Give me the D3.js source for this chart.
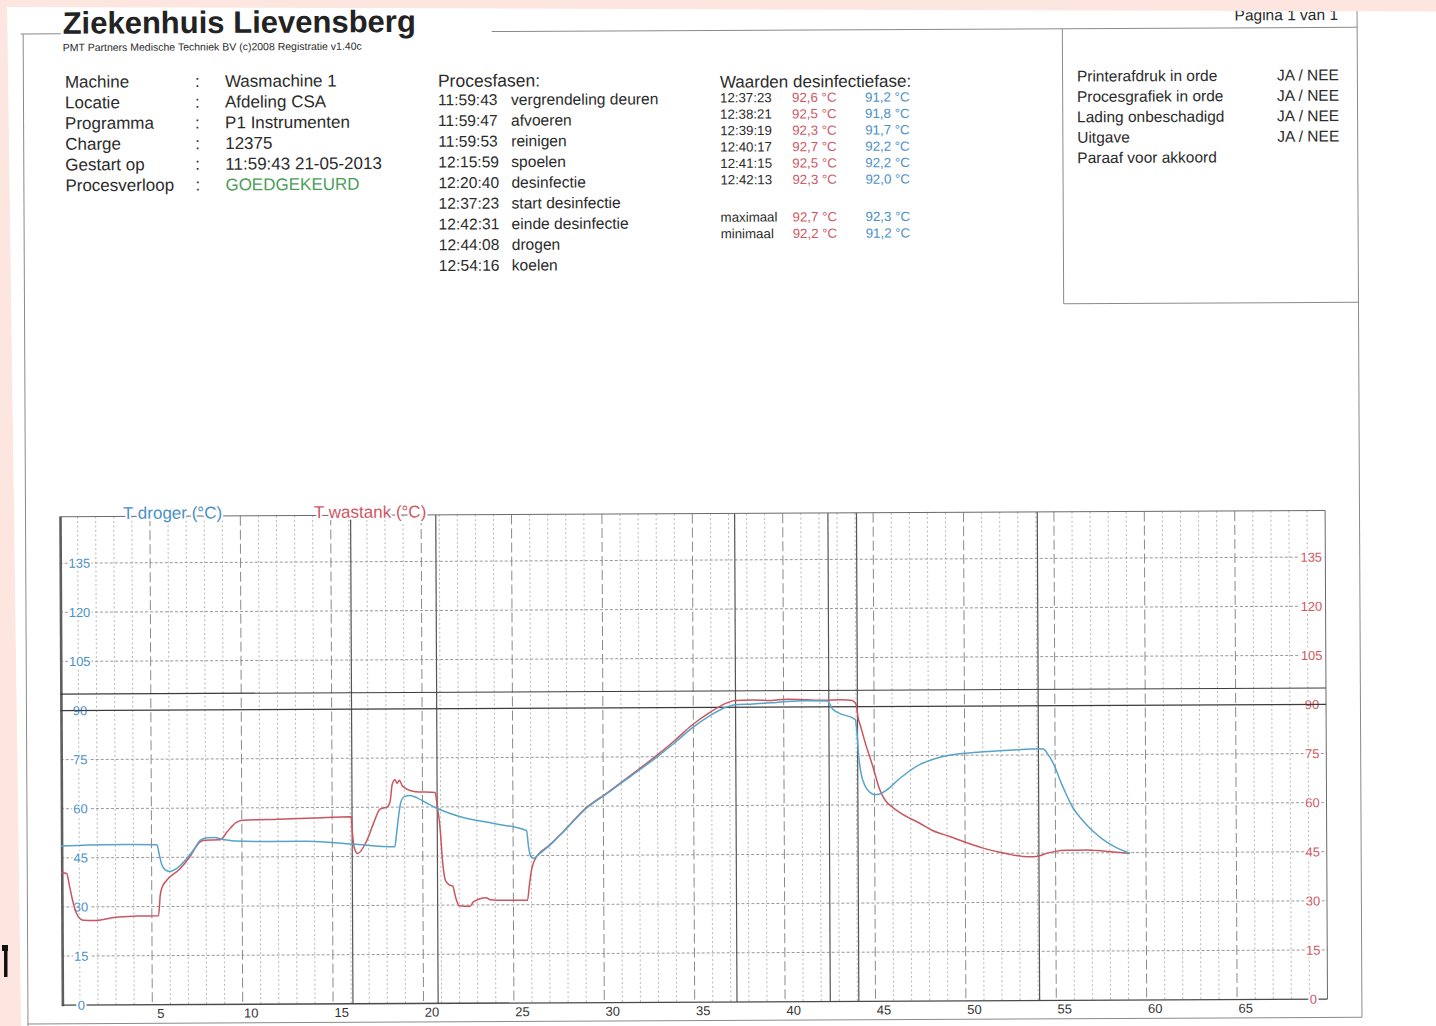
<!DOCTYPE html>
<html>
<head>
<meta charset="utf-8">
<script src="https://cdn.jsdelivr.net/npm/d3@7"></script>
<style>
body { margin: 0; background: #fff; }
svg { display: block; font-family: "Liberation Sans", Arial, sans-serif; }
</style>
</head>
<body>
<svg id="page" width="1436" height="1026"></svg>
<script>
// ---- header data ----
var infoLabels = ["Machine", "Locatie", "Programma", "Charge", "Gestart op", "Procesverloop"];
var infoValues = ["Wasmachine 1", "Afdeling CSA", "P1 Instrumenten", "12375", "11:59:43 21-05-2013", "GOEDGEKEURD"];
var phaseTimes = ["11:59:43", "11:59:47", "11:59:53", "12:15:59", "12:20:40", "12:37:23", "12:42:31", "12:44:08", "12:54:16"];
var phaseNames = ["vergrendeling deuren", "afvoeren", "reinigen", "spoelen", "desinfectie", "start desinfectie", "einde desinfectie", "drogen", "koelen"];
var desinfTimes = ["12:37:23", "12:38:21", "12:39:19", "12:40:17", "12:41:15", "12:42:13"];
var desinfWastank = ["92,6 °C", "92,5 °C", "92,3 °C", "92,7 °C", "92,5 °C", "92,3 °C"];
var desinfDroger = ["91,2 °C", "91,8 °C", "91,7 °C", "92,2 °C", "92,2 °C", "92,0 °C"];
var extremaLabels = ["maximaal", "minimaal"];
var extremaWastank = ["92,7 °C", "92,2 °C"];
var extremaDroger = ["92,3 °C", "91,2 °C"];
var checkItems = ["Printerafdruk in orde", "Procesgrafiek in orde", "Lading onbeschadigd", "Uitgave", "Paraaf voor akkoord"];
var checkAnswers = ["JA / NEE", "JA / NEE", "JA / NEE", "JA / NEE", ""];

// ---- chart data: [minuten, °C] ----
var xTicks = [5, 10, 15, 20, 25, 30, 35, 40, 45, 50, 55, 60, 65];
var yTicks = [0, 15, 30, 45, 60, 75, 90, 105, 120, 135];
var limitLines = [90, 95];
var phaseMarks = [16.1, 20.81, 37.34, 42.5, 44.08, 54.08];

var droger = [[0,48.6],[1.5,48.9],[3.5,49.0],[5.3,48.9],[5.42,46],[5.55,43],[5.75,41.2],[6.0,40.7],[6.4,41.6],[6.9,44.3],[7.4,47.8],[7.7,50.2],[8.1,50.9],[8.5,51.0],[8.8,50.6],[9.6,49.9],[11.5,49.7],[13.6,49.7],[16.1,48.8],[18.45,47.9],[18.55,51.5],[18.65,56.2],[18.8,61.5],[19.0,63.2],[19.3,63.5],[19.7,62.8],[20.2,61.3],[20.8,59.6],[22.0,57.1],[24.0,54.8],[25.75,52.6],[25.85,47.8],[25.97,44.8],[26.15,44.2],[26.4,45.3],[27.0,48.0],[27.8,52.3],[29.05,59.3],[30.2,63.8],[31.5,69.0],[32.9,74.6],[34.0,79.4],[34.9,83.6],[35.9,87.4],[36.8,90.0],[37.3,90.8],[38.3,91.0],[39.3,91.3],[40.2,91.7],[41.2,91.9],[42.42,91.8],[42.7,89.3],[43.0,88.2],[43.95,86.1],[44.05,82],[44.12,76],[44.25,70],[44.5,65.6],[44.75,63.8],[45.0,63.1],[45.3,63.3],[45.65,64.4],[46.4,68.0],[47.5,72.2],[48.3,73.9],[49.15,75.0],[50.5,75.8],[51.9,76.3],[53.0,76.6],[54.1,76.9],[54.35,76.8],[54.6,75.2],[54.87,72.7],[55.4,65.5],[55.97,58.8],[56.5,55.0],[57.08,51.6],[57.6,49.2],[58.19,47.1],[59.11,44.8]];

var wastank = [[0,40.5],[0.3,40.2],[0.45,36.5],[0.6,32.5],[0.85,27.8],[1.2,25.9],[1.9,25.8],[3.0,26.8],[4.2,27.1],[5.37,27.2],[5.47,33.5],[5.6,36.2],[5.8,37.8],[6.57,41.5],[7.1,45.0],[7.67,49.6],[7.9,50.2],[8.8,50.3],[9.2,52.8],[9.7,55.6],[10.1,56.2],[12.0,56.5],[14.0,56.8],[16.05,57.1],[16.12,52],[16.22,47.5],[16.4,45.9],[16.9,49.7],[17.3,55.3],[17.65,59.4],[18.05,60.1],[18.2,61.5],[18.33,67.0],[18.48,68.4],[18.6,67.3],[18.72,68.2],[18.9,66.4],[19.6,64.7],[20.7,64.4],[20.82,60],[20.95,54.5],[21.1,43.0],[21.25,37.5],[21.45,36.2],[21.65,35.8],[21.8,32.5],[22.0,29.8],[22.6,29.6],[22.8,31.0],[23.5,32.2],[23.7,31.6],[24.6,31.4],[25.78,31.4],[25.9,36.5],[26.02,40.8],[26.2,43.8],[26.4,45.4],[27.0,48.1],[27.8,52.4],[29.05,59.5],[30.2,64.0],[31.5,69.3],[32.9,75.1],[34.0,80.1],[34.9,84.5],[35.9,88.4],[36.8,91.2],[37.3,92.1],[38.3,92.2],[39.3,92.0],[40.2,92.4],[41.2,92.2],[42.3,92.0],[43.2,92.1],[43.8,91.9],[44.0,90.8],[44.12,86.5],[44.25,84.0],[44.5,79.0],[44.9,72.0],[45.3,64.5],[45.6,61.3],[46.0,59.2],[46.4,57.6],[47.5,54.3],[48.23,52.0],[49.15,50.2],[50.08,48.3],[51.0,46.6],[51.92,45.3],[52.6,44.5],[53.2,44.0],[53.8,43.9],[54.13,44.2],[54.5,44.9],[55.0,45.5],[55.6,45.8],[56.7,45.9],[57.5,45.6],[58.19,45.2],[59.11,44.8]];

var blue = "#4a90c8", red = "#cf5763", lineBlue = "#57a4c9", lineRed = "#c9565f", ink = "#2b2b2b";

var svg = d3.select("#page");
svg.append("rect").attr("width", 1436).attr("height", 1026).attr("fill", "#fff");
// scan is slightly skewed
var page = svg.append("g").attr("transform", "rotate(-0.28,718,513)");

// ---- page frame ----
var frame = page.append("g").attr("stroke", "#8a8a8a").attr("stroke-width", 1).attr("fill", "none");
frame.append("line").attr("x1", 23).attr("x2", 63).attr("y1", 30.5).attr("y2", 30.5);
frame.append("line").attr("x1", 494).attr("x2", 1359.5).attr("y1", 30.5).attr("y2", 30.5);
frame.append("line").attr("x1", 25.5).attr("x2", 25.5).attr("y1", 30.5).attr("y2", 1030);
frame.append("line").attr("x1", 1359.5).attr("x2", 1359.5).attr("y1", -5).attr("y2", 1020.5);
frame.append("line").attr("x1", 25.5).attr("x2", 1359.5).attr("y1", 1020.5).attr("y2", 1020.5);
frame.append("line").attr("x1", 1064.7).attr("x2", 1064.7).attr("y1", 30.5).attr("y2", 305.4);
frame.append("line").attr("x1", 1064.7).attr("x2", 1359.5).attr("y1", 305.4).attr("y2", 305.4);

// ---- header ----
page.append("text").attr("x", 65).attr("y", 30.5).attr("font-size", 31).attr("font-weight", "bold")
  .attr("fill", "#232323").text("Ziekenhuis Lievensberg");
page.append("text").attr("x", 65).attr("y", 48).attr("font-size", 10.5).attr("fill", ink)
  .text("PMT Partners Medische Techniek BV (c)2008 Registratie v1.40c");
page.append("text").attr("x", 1237).attr("y", 23).attr("font-size", 15.5).attr("fill", ink).text("Pagina 1 van 1");

var info = page.append("g").attr("font-size", 17).attr("fill", ink);
info.selectAll(".lab").data(infoLabels).join("text")
  .attr("x", 67).attr("y", function(d, i) { return 84.5 + i * 20.7; }).text(function(d) { return d; });
info.selectAll(".col").data(infoLabels).join("text")
  .attr("x", 197).attr("y", function(d, i) { return 84.5 + i * 20.7; }).text(":");
info.selectAll(".val").data(infoValues).join("text")
  .attr("x", 227).attr("y", function(d, i) { return 84.5 + i * 20.7; })
  .attr("fill", function(d, i) { return i === infoValues.length - 1 ? "#4c9d5a" : ink; })
  .text(function(d) { return d; });

var fases = page.append("g").attr("fill", ink);
fases.append("text").attr("x", 440).attr("y", 85.5).attr("font-size", 17.5).text("Procesfasen:");
fases.selectAll(".t").data(phaseTimes).join("text").attr("font-size", 15.6)
  .attr("x", 440).attr("y", function(d, i) { return 104 + i * 20.7; }).text(function(d) { return d; });
fases.selectAll(".n").data(phaseNames).join("text").attr("font-size", 15.6)
  .attr("x", 513).attr("y", function(d, i) { return 104 + i * 20.7; }).text(function(d) { return d; });

var waarden = page.append("g").attr("font-size", 13.3).attr("fill", ink);
waarden.append("text").attr("x", 722).attr("y", 87.7).attr("font-size", 17).text("Waarden desinfectiefase:");
desinfTimes.forEach(function(t, i) {
  var yy = 102.4 + i * 16.4;
  waarden.append("text").attr("x", 722).attr("y", yy).text(t);
  waarden.append("text").attr("x", 794).attr("y", yy).attr("fill", red).text(desinfWastank[i]);
  waarden.append("text").attr("x", 867).attr("y", yy).attr("fill", blue).text(desinfDroger[i]);
});
extremaLabels.forEach(function(t, i) {
  var yy = 221.8 + i * 16.6;
  waarden.append("text").attr("x", 722).attr("y", yy).text(t);
  waarden.append("text").attr("x", 794).attr("y", yy).attr("fill", red).text(extremaWastank[i]);
  waarden.append("text").attr("x", 867).attr("y", yy).attr("fill", blue).text(extremaDroger[i]);
});

var checks = page.append("g").attr("font-size", 15.5).attr("fill", ink);
checks.selectAll(".c").data(checkItems).join("text")
  .attr("x", 1079).attr("y", function(d, i) { return 83.3 + i * 20.4; }).text(function(d) { return d; });
checks.selectAll(".a").data(checkAnswers).join("text")
  .attr("x", 1279).attr("y", function(d, i) { return 83.3 + i * 20.4; }).text(function(d) { return d; });

// ---- chart ----
var x = d3.scaleLinear().domain([0, 70]).range([59.5, 59.5 + 70 * 18.08]);
var y = d3.scaleLinear().domain([0, 135]).range([1002, 560]);
var plotTop = 513.5, x0 = x(0), x1 = x(70), yb = y(0);
var chart = page.append("g");

// horizontal dotted grid
chart.append("g").selectAll("line").data(yTicks.filter(function(v) { return v > 0 && limitLines.indexOf(v) < 0; })).join("line")
  .attr("x1", x0).attr("x2", x1).attr("y1", function(d) { return y(d); }).attr("y2", function(d) { return y(d); })
  .attr("stroke", "#8c8c8c").attr("stroke-width", 0.9).attr("stroke-dasharray", "3,2");

// vertical minute grid
chart.append("g").selectAll("line").data(d3.range(1, 70)).join("line")
  .attr("x1", function(d) { return x(d); }).attr("x2", function(d) { return x(d); })
  .attr("y1", plotTop).attr("y2", yb)
  .attr("stroke", function(d) { return d % 5 === 0 ? "#8a8a8a" : "#a6a6a6"; })
  .attr("stroke-width", function(d) { return d % 5 === 0 ? 1 : 0.8; })
  .attr("stroke-dasharray", function(d) { return d % 5 === 0 ? "10,4" : "2,2.5"; });

// phase markers
chart.append("g").selectAll("line").data(phaseMarks).join("line")
  .attr("x1", function(d) { return x(d); }).attr("x2", function(d) { return x(d); })
  .attr("y1", plotTop).attr("y2", yb).attr("stroke", "#555").attr("stroke-width", 1.2);

// frame
chart.append("line").attr("x1", x0).attr("x2", x1).attr("y1", plotTop).attr("y2", plotTop).attr("stroke", "#6a6a6a").attr("stroke-width", 1);
chart.append("line").attr("x1", x1).attr("x2", x1).attr("y1", plotTop).attr("y2", yb).attr("stroke", "#6a6a6a").attr("stroke-width", 1);
chart.append("line").attr("x1", x0 + 1).attr("x2", x0 + 1).attr("y1", plotTop).attr("y2", yb + 1).attr("stroke", "#5e5e5e").attr("stroke-width", 2.6);
chart.append("line").attr("x1", x0).attr("x2", x1).attr("y1", yb).attr("y2", yb).attr("stroke", "#4a4a4a").attr("stroke-width", 1.3);

function styleLabels(sel, color) {
  sel.select(".domain").remove();
  sel.attr("font-family", null).attr("font-size", 13);
  sel.selectAll("text").attr("x", 0).attr("text-anchor", "middle").attr("fill", color)
    .attr("stroke", "#fff").attr("stroke-width", 4).attr("paint-order", "stroke");
}
chart.append("g").attr("transform", "translate(79,0)")
  .call(d3.axisLeft(y).tickValues(yTicks).tickSize(0).tickPadding(0))
  .call(styleLabels, blue);
chart.append("g").attr("transform", "translate(1311,0)")
  .call(d3.axisRight(y).tickValues(yTicks).tickSize(0).tickPadding(0))
  .call(styleLabels, red);
chart.append("g").attr("transform", "translate(0," + yb + ")")
  .call(d3.axisBottom(x).tickValues(xTicks).tickSize(0).tickPadding(4))
  .call(function(g) {
    g.select(".domain").remove();
    g.attr("font-family", null).attr("font-size", 13);
    g.selectAll("text").attr("dx", 8).attr("fill", "#333");
  });

// limit lines (drawn over the labels)
chart.append("g").selectAll("line").data(limitLines).join("line")
  .attr("x1", x0).attr("x2", x1).attr("y1", function(d) { return y(d); }).attr("y2", function(d) { return y(d); })
  .attr("stroke", "#3c3c3c").attr("stroke-width", 1.2);

// series titles on top border
chart.append("text").attr("x", 123).attr("y", 516).attr("font-size", 17).attr("fill", blue)
  .attr("stroke", "#fff").attr("stroke-width", 4).attr("paint-order", "stroke").text("T droger (°C)");
chart.append("text").attr("x", 314).attr("y", 516).attr("font-size", 17).attr("fill", red)
  .attr("stroke", "#fff").attr("stroke-width", 4).attr("paint-order", "stroke").text("T wastank (°C)");

// curves
var line = d3.line().x(function(d) { return x(d[0]); }).y(function(d) { return y(d[1]); }).curve(d3.curveMonotoneX);
chart.append("path").datum(wastank).attr("d", line).attr("fill", "none").attr("stroke", lineRed).attr("stroke-width", 1.5);
chart.append("path").datum(droger).attr("d", line).attr("fill", "none").attr("stroke", lineBlue).attr("stroke-width", 1.5);

// ---- scan border (outside the page) ----
svg.append("polygon").attr("points", "0,0 1436,0 1436,11.5 0,7").attr("fill", "#fce6df");
svg.append("polygon").attr("points", "0,0 7,0 21,1026 0,1026").attr("fill", "#fce6df");
svg.append("rect").attr("x", 2).attr("y", 945).attr("width", 6).attr("height", 6).attr("fill", "#111");
svg.append("rect").attr("x", 4).attr("y", 945).attr("width", 3.5).attr("height", 32).attr("fill", "#111");
</script>
</body>
</html>
